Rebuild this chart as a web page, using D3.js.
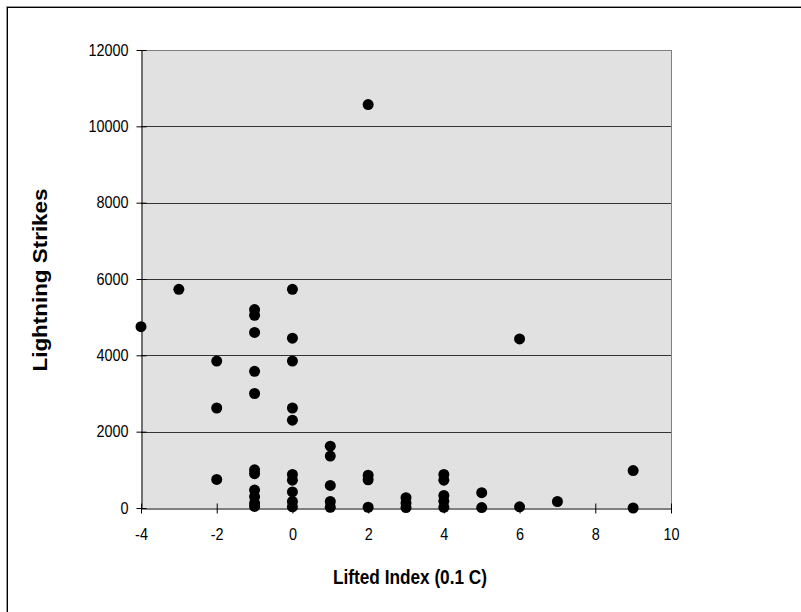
<!DOCTYPE html>
<html><head><meta charset="utf-8">
<script src="https://cdn.jsdelivr.net/npm/d3@7"></script>
<style>body{margin:0;background:#fff}svg{display:block}</style>
</head><body>
<script>
// Data: Lifted Index (x) and lightning strike counts (y)
const liftedIndex = [-4, -3, -2, -2, -2,
  -1, -1, -1, -1, -1, -1, -1, -1, -1, -1, -1,
  0, 0, 0, 0, 0, 0, 0, 0, 0, 0,
  1, 1, 1, 1, 1,
  2, 2, 2, 2,
  3, 3, 3,
  4, 4, 4, 4, 4,
  5, 5, 6, 6, 7, 9, 9];
const strikes = [4750, 5730, 3850, 2620, 750,
  5200, 5050, 4600, 3580, 3000, 1000, 900, 470, 300, 130, 40,
  5730, 4450, 3850, 2620, 2300, 880, 730, 420, 170, 30,
  1620, 1360, 590, 170, 20,
  10570, 860, 740, 20,
  270, 130, 10,
  880, 730, 330, 180, 20,
  400, 10, 4430, 30, 170, 980, 0];
const xTicks = [-4, -2, 0, 2, 4, 6, 8, 10];
const yTicks = [0, 2000, 4000, 6000, 8000, 10000, 12000];
const xTitle = "Lifted Index  (0.1 C)";
const yTitle = "Lightning Strikes";

const W = 801, H = 612;
const FONT = "Liberation Sans, Arial, sans-serif";
const svg = d3.select("body").append("svg").attr("width", W).attr("height", H);
svg.append("rect").attr("width", W).attr("height", H).attr("fill", "#fff");
// outer frame
svg.append("rect").attr("x", 7.5).attr("y", 7.5).attr("width", W + 10).attr("height", H + 10)
  .attr("fill", "none").attr("stroke", "#000").attr("stroke-width", 1);
svg.append("line").attr("x1", 6.5).attr("x2", 6.5).attr("y1", 6).attr("y2", H)
  .attr("stroke", "#999");
svg.append("line").attr("x1", 6).attr("x2", W).attr("y1", 6.5).attr("y2", 6.5)
  .attr("stroke", "#999");

const L = 141, R = 671, T = 50, B = 508;
const x = d3.scaleLinear().domain([-4, 10]).range([L, R]);
const y = d3.scaleLinear().domain([0, 12000]).range([B, T]);

svg.append("rect").attr("x", L).attr("y", T).attr("width", R - L).attr("height", B - T)
  .attr("fill", "#e1e1e1");

// gridlines
svg.append("g").selectAll("line").data(yTicks.filter(d => d > 0)).join("line")
  .attr("x1", L).attr("x2", R)
  .attr("y1", d => Math.round(y(d)) + 0.5).attr("y2", d => Math.round(y(d)) + 0.5)
  .attr("stroke", d => d === 12000 ? "#808080" : "#333").attr("stroke-width", 1);
// plot border right
svg.append("line").attr("x1", R + 0.5).attr("x2", R + 0.5).attr("y1", T).attr("y2", B)
  .attr("stroke", "#808080");

const fmt = d => String(d);
const condense = (sel, k) => sel.each(function() {
  const w = this.getComputedTextLength();
  d3.select(this).attr("textLength", w * k).attr("lengthAdjust", "spacingAndGlyphs");
});

// axes
const yAxis = d3.axisLeft(y).tickValues(yTicks).tickFormat(fmt).tickSizeInner(5).tickSizeOuter(0);
const gy = svg.append("g").attr("transform", `translate(${L + 0.5},0)`).call(yAxis);
gy.select(".domain").attr("stroke", "#000");
gy.selectAll(".tick line").attr("x1", -5).attr("x2", 5).attr("stroke", "#000");
gy.selectAll(".tick text").attr("font-family", FONT)
  .attr("font-size", 16).attr("fill", "#000").attr("x", -13).call(condense, 0.9);

const xAxis = d3.axisBottom(x).tickValues(xTicks).tickFormat(fmt).tickSizeInner(5).tickSizeOuter(0);
const gx = svg.append("g").attr("transform", `translate(0,${B + 0.5})`).call(xAxis);
gx.select(".domain").attr("stroke", "#000");
gx.selectAll(".tick line").attr("y1", -5).attr("y2", 5).attr("stroke", "#000");
gx.selectAll(".tick text").attr("font-family", FONT)
  .attr("font-size", 16).attr("fill", "#000").attr("dy", "0.71em").attr("y", 20).call(condense, 0.9);

// points
const pts = liftedIndex.map((v, i) => ({x: v, y: strikes[i]}));
svg.append("g").selectAll("circle").data(pts).join("circle")
  .attr("cx", d => x(d.x)).attr("cy", d => y(d.y)).attr("r", 5.5).attr("fill", "#000");

// titles
svg.append("text").attr("x", 410).attr("y", 584).attr("text-anchor", "middle")
  .attr("font-family", FONT).attr("font-weight", "bold")
  .attr("font-size", 20).attr("textLength", 154).attr("lengthAdjust", "spacingAndGlyphs")
  .text(xTitle);
svg.append("text").attr("transform", `translate(47,280) rotate(-90)`)
  .attr("text-anchor", "middle")
  .attr("font-family", FONT).attr("font-weight", "bold")
  .attr("font-size", 20).attr("textLength", 183).attr("lengthAdjust", "spacingAndGlyphs")
  .text(yTitle);
</script>
</body></html>
